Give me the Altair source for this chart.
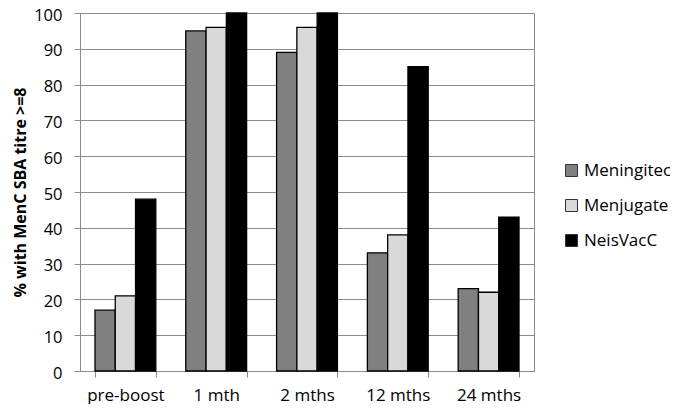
import altair as alt
import pandas as pd

categories = ["pre-boost", "1 mth", "2 mths", "12 mths", "24 mths"]
series = ["Meningitec", "Menjugate", "NeisVacC"]
meningitec = [17, 95, 89, 33, 23]
menjugate = [21, 96, 96, 38, 22]
neisvacc = [48, 100, 100, 85, 43]
colors = ["#808080", "#d9d9d9", "#000000"]
y_ticks = [0, 10, 20, 30, 40, 50, 60, 70, 80, 90, 100]

rows = []
for s, vals in zip(series, [meningitec, menjugate, neisvacc]):
    for c, v in zip(categories, vals):
        rows.append({"time": c, "vaccine": s, "value": v})
df = pd.DataFrame(rows)

FONT = "Open Sans"
GRID = "#8c8c8c"

chart = alt.Chart(df).mark_bar(stroke="black", strokeWidth=1.3).encode(
    x=alt.X(
        "time:N",
        sort=categories,
        scale=alt.Scale(paddingInner=0.33, paddingOuter=0.165),
        axis=alt.Axis(
            title=None, labelAngle=0, tickBand="extent", grid=False,
            domainColor=GRID, tickColor=GRID, tickSize=6, labelPadding=10,
            labelFont=FONT, labelFontSize=17, labelColor="black",
        ),
    ),
    xOffset=alt.XOffset("vaccine:N", sort=series, scale=alt.Scale(paddingInner=0, paddingOuter=0)),
    y=alt.Y(
        "value:Q",
        scale=alt.Scale(domain=[0, 100], nice=False),
        axis=alt.Axis(
            values=y_ticks, title="% with MenC SBA titre >=8",
            titleFont=FONT, titleFontSize=16, titleFontWeight="bold", titleColor="black",
            titlePadding=5,
            labelFont=FONT, labelFontSize=16.5, labelColor="black", labelPadding=12,
            labelOffset=2,
            tickSize=6, tickColor=GRID, domainColor=GRID, gridColor=GRID, grid=True,
        ),
    ),
    color=alt.Color(
        "vaccine:N",
        sort=series,
        scale=alt.Scale(domain=series, range=colors),
        legend=alt.Legend(
            title=None, orient="none", legendX=483, legendY=149,
            symbolType="square", symbolSize=144, symbolStrokeColor="#333333",
            symbolStrokeWidth=1, labelFont=FONT, labelFontSize=17, labelColor="black",
            rowPadding=17, labelOffset=4,
        ),
    ),
).properties(
    width=454, height=358,
    autosize=alt.AutoSizeParams(type="none"),
    padding={"left": 72, "top": 5, "right": 136, "bottom": 33},
).configure_view(stroke=GRID)

chart.save("out.html", embed_options={"renderer": "svg", "actions": False})
